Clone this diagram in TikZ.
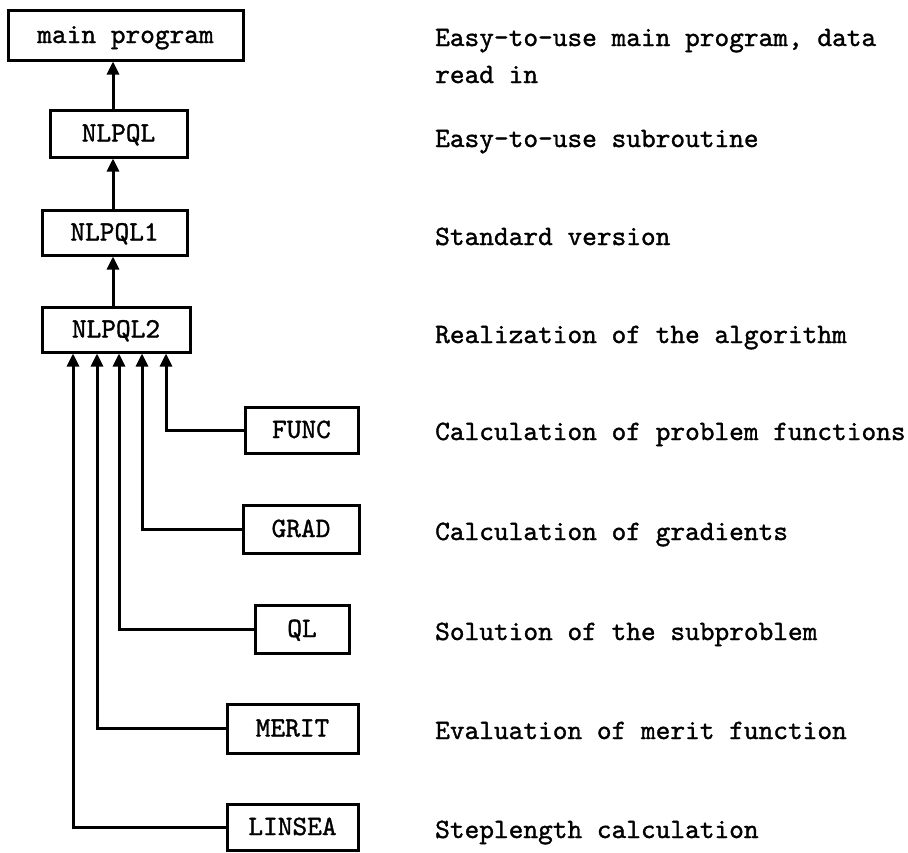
\documentclass[tikz,border=0pt]{standalone}
\usepackage{fontspec}
\newfontfamily\twfont{lmmono10-regular}[Extension=.otf,AutoFakeBold=1.2]
\usetikzlibrary{arrows.meta}
\begin{document}
\begin{tikzpicture}[x=1pt,y=-1pt,
  tw/.style={font=\fontsize{28}{30}\selectfont\twfont\bfseries},
  box/.style={tw,draw,line width=3pt,inner sep=0pt,text height=16pt,text depth=0pt,align=center},
  lbl/.style={tw,anchor=base west,inner sep=0pt},
  arr/.style={line width=3pt,-{Triangle[width=12pt,length=13pt]}}]
\useasboundingbox (0,0) rectangle (908,852);
% boxes
\node[box,minimum width=235pt,minimum height=50pt] (main) at (125.5,35) {main program};
\node[box,minimum width=137pt,minimum height=47pt] (nlpql) at (118.5,133.5) {NLPQL};
\node[box,minimum width=145pt,minimum height=45pt] (nlpql1) at (114.5,232.5) {NLPQL1};
\node[box,minimum width=148pt,minimum height=45pt] (nlpql2) at (116,329.5) {NLPQL2};
\node[box,minimum width=113pt,minimum height=46pt] (func) at (301.5,430) {FUNC};
\node[box,minimum width=116pt,minimum height=48pt] (grad) at (301,529) {GRAD};
\node[box,minimum width=94pt,minimum height=48pt] (ql) at (302,629) {QL};
\node[box,minimum width=131pt,minimum height=49pt] (merit) at (292.5,728.5) {MERIT};
\node[box,minimum width=131pt,minimum height=46pt] (linsea) at (292.5,827) {LINSEA};
% spine
\coordinate (spine) at (113,0);
\draw[arr] (nlpql.north -| spine) -- (main.south -| spine);
\draw[arr] (nlpql1.north -| spine) -- (nlpql.south -| spine);
\draw[arr] (nlpql2.north -| spine) -- (nlpql1.south -| spine);
% feeders
\draw[arr] (func.west) -| ([xshift=50pt]nlpql2.south);
\draw[arr] (grad.west) -| ([xshift=26pt]nlpql2.south);
\draw[arr] (ql.west) -| ([xshift=3pt]nlpql2.south);
\draw[arr] (merit.west) -| ([xshift=-19pt]nlpql2.south);
\draw[arr] (linsea.west) -| ([xshift=-43pt]nlpql2.south);
% labels
\node[lbl] (l1a) at (435,46) {Easy-to-use main program, data};
\node[lbl] (l1b) at (435,83) {read in};
\node[lbl] (l2) at (435,147) {Easy-to-use subroutine};
\node[lbl] (l3) at (435,245) {Standard version};
\node[lbl] (l4) at (435,343) {Realization of the algorithm};
\node[lbl] (l5) at (435,440) {Calculation of problem functions};
\node[lbl] (l6) at (435,540) {Calculation of gradients};
\node[lbl] (l7) at (435,640) {Solution of the subproblem};
\node[lbl] (l8) at (435,739) {Evaluation of merit function};
\node[lbl] (l9) at (435,838) {Steplength calculation};
\end{tikzpicture}
\end{document}
